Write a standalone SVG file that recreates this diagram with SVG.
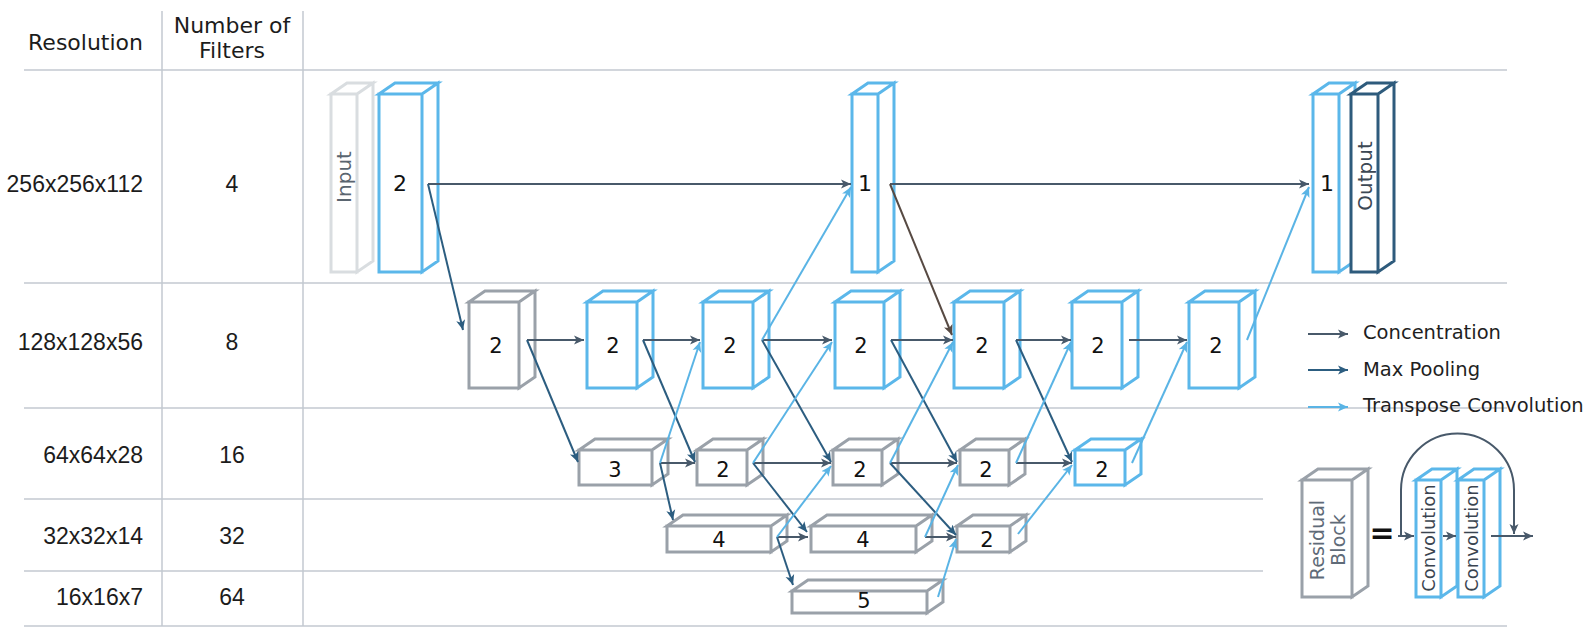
<svg xmlns="http://www.w3.org/2000/svg" width="1590" height="642" viewBox="0 0 1590 642">
<style>
.grid{stroke:#c3c9d1;stroke-width:1.5;fill:none}
.bx{fill:#fff;stroke-width:3;stroke-linejoin:miter}
.blue{stroke:#5bb7ea}
.gray{stroke:#9aa1a9}
.light{stroke:#d9dde0}
.dark{stroke:#2e5b7c}
.lbl{font-family:"DejaVu Sans",sans-serif;font-size:21px;fill:#111;text-anchor:middle}
.big{font-size:22px}
.hdr{font-family:"DejaVu Sans",sans-serif;font-size:22px;fill:#1c1c1c}
.num{font-family:"Liberation Sans",Arial,sans-serif;font-size:23px;fill:#1c1c1c}
.rot{font-family:"DejaVu Sans",sans-serif;text-anchor:middle}
.leg{font-family:"DejaVu Sans",sans-serif;font-size:19.5px;fill:#1f1f1f}
.c{stroke:#48596a;stroke-width:2;fill:none;marker-end:url(#mc)}
.p{stroke:#2c5d80;stroke-width:2;fill:none;marker-end:url(#mp)}
.t{stroke:#5ab4e5;stroke-width:2;fill:none;marker-end:url(#mt)}
.b{stroke:#574a43;stroke-width:2;fill:none;marker-end:url(#mb)}
</style>
<defs>
<marker id="mc" viewBox="0 0 10 10" refX="10" refY="5" markerWidth="10" markerHeight="10" markerUnits="userSpaceOnUse" orient="auto"><path d="M0,0.5 L10,5 L0,9.5 L2.5,5 z" fill="#48596a"/></marker>
<marker id="mp" viewBox="0 0 10 10" refX="10" refY="5" markerWidth="10" markerHeight="10" markerUnits="userSpaceOnUse" orient="auto"><path d="M0,0.5 L10,5 L0,9.5 L2.5,5 z" fill="#2c5d80"/></marker>
<marker id="mt" viewBox="0 0 10 10" refX="10" refY="5" markerWidth="10" markerHeight="10" markerUnits="userSpaceOnUse" orient="auto"><path d="M0,0.5 L10,5 L0,9.5 L2.5,5 z" fill="#5ab4e5"/></marker>
<marker id="mb" viewBox="0 0 10 10" refX="10" refY="5" markerWidth="10" markerHeight="10" markerUnits="userSpaceOnUse" orient="auto"><path d="M0,0.5 L10,5 L0,9.5 L2.5,5 z" fill="#574a43"/></marker>
</defs>

<g id="table">
<path class="grid" d="M24,70 H1507 M24,283 H1507 M24,408 H1507 M24,499 H1263 M24,571 H1263 M24,626 H1507 M162,11 V626 M303,11 V626"/>
<text class="hdr" x="143" y="50" text-anchor="end">Resolution</text>
<text class="hdr" x="232" y="33" text-anchor="middle">Number of</text>
<text class="hdr" x="232" y="58" text-anchor="middle">Filters</text>
<text class="num" x="143" y="192" text-anchor="end">256x256x112</text>
<text class="num" x="143" y="350" text-anchor="end">128x128x56</text>
<text class="num" x="143" y="463" text-anchor="end">64x64x28</text>
<text class="num" x="143" y="544" text-anchor="end">32x32x14</text>
<text class="num" x="143" y="605" text-anchor="end">16x16x7</text>
<text class="num" x="232" y="192" text-anchor="middle">4</text>
<text class="num" x="232" y="350" text-anchor="middle">8</text>
<text class="num" x="232" y="463" text-anchor="middle">16</text>
<text class="num" x="232" y="544" text-anchor="middle">32</text>
<text class="num" x="232" y="605" text-anchor="middle">64</text>
</g>

<g id="node-input"><path class="bx light" d="M331,94 h26 v178 h-26 z M331,94 l16,-11 h26 l-16,11 z M357,94 l16,-11 v178 l-16,11 z"/><text class="rot" font-size="20" fill="#5a6570" transform="translate(344,177) rotate(-90)" dy="7">Input</text></g>
<g id="node-a"><path class="bx blue" d="M379,94 h43 v178 h-43 z M379,94 l16,-11 h43 l-16,11 z M422,94 l16,-11 v178 l-16,11 z"/><text class="lbl big" x="400" y="191">2</text></g>
<g id="node-t1"><path class="bx blue" d="M852,94 h26 v178 h-26 z M852,94 l16,-11 h26 l-16,11 z M878,94 l16,-11 v178 l-16,11 z"/><text class="lbl big" x="865" y="191">1</text></g>
<g id="node-r1"><path class="bx blue" d="M1313,94 h26 v178 h-26 z M1313,94 l16,-11 h26 l-16,11 z M1339,94 l16,-11 v178 l-16,11 z"/><text class="lbl big" x="1327" y="191">1</text></g>
<g id="node-output"><path class="bx dark" d="M1351,94 h27 v178 h-27 z M1351,94 l16,-11 h27 l-16,11 z M1378,94 l16,-11 v178 l-16,11 z"/><text class="rot" font-size="20" fill="#3c4854" transform="translate(1365,176) rotate(-90)" dy="7">Output</text></g>

<g id="node-b"><path class="bx gray" d="M469,302 h50 v86 h-50 z M469,302 l16,-11 h50 l-16,11 z M519,302 l16,-11 v86 l-16,11 z"/><text class="lbl" x="496" y="353">2</text></g>
<g id="node-c"><path class="bx blue" d="M587,302 h50 v86 h-50 z M587,302 l16,-11 h50 l-16,11 z M637,302 l16,-11 v86 l-16,11 z"/><text class="lbl" x="613" y="353">2</text></g>
<g id="node-d"><path class="bx blue" d="M703,302 h50 v86 h-50 z M703,302 l16,-11 h50 l-16,11 z M753,302 l16,-11 v86 l-16,11 z"/><text class="lbl" x="730" y="353">2</text></g>
<g id="node-e"><path class="bx blue" d="M835,302 h49 v86 h-49 z M835,302 l16,-11 h49 l-16,11 z M884,302 l16,-11 v86 l-16,11 z"/><text class="lbl" x="861" y="353">2</text></g>
<g id="node-f"><path class="bx blue" d="M954,302 h50 v86 h-50 z M954,302 l16,-11 h50 l-16,11 z M1004,302 l16,-11 v86 l-16,11 z"/><text class="lbl" x="982" y="353">2</text></g>
<g id="node-g"><path class="bx blue" d="M1072,302 h50 v86 h-50 z M1072,302 l16,-11 h50 l-16,11 z M1122,302 l16,-11 v86 l-16,11 z"/><text class="lbl" x="1098" y="353">2</text></g>
<g id="node-h"><path class="bx blue" d="M1189,302 h50 v86 h-50 z M1189,302 l16,-11 h50 l-16,11 z M1239,302 l16,-11 v86 l-16,11 z"/><text class="lbl" x="1216" y="353">2</text></g>

<g id="node-3"><path class="bx gray" d="M579,450 h73 v35 h-73 z M579,450 l16,-11 h73 l-16,11 z M652,450 l16,-11 v35 l-16,11 z"/><text class="lbl" x="615" y="477">3</text></g>
<g id="node-i"><path class="bx gray" d="M697,450 h50 v35 h-50 z M697,450 l16,-11 h50 l-16,11 z M747,450 l16,-11 v35 l-16,11 z"/><text class="lbl" x="723" y="477">2</text></g>
<g id="node-j"><path class="bx gray" d="M833,450 h49 v35 h-49 z M833,450 l16,-11 h49 l-16,11 z M882,450 l16,-11 v35 l-16,11 z"/><text class="lbl" x="860" y="477">2</text></g>
<g id="node-k"><path class="bx gray" d="M960,450 h49 v35 h-49 z M960,450 l16,-11 h49 l-16,11 z M1009,450 l16,-11 v35 l-16,11 z"/><text class="lbl" x="986" y="477">2</text></g>
<g id="node-l"><path class="bx blue" d="M1075,450 h50 v35 h-50 z M1075,450 l16,-11 h50 l-16,11 z M1125,450 l16,-11 v35 l-16,11 z"/><text class="lbl" x="1102" y="477">2</text></g>

<g id="node-m"><path class="bx gray" d="M667,526 h104 v26 h-104 z M667,526 l16,-11 h104 l-16,11 z M771,526 l16,-11 v26 l-16,11 z"/><text class="lbl" x="719" y="547">4</text></g>
<g id="node-n"><path class="bx gray" d="M811,526 h105 v26 h-105 z M811,526 l16,-11 h105 l-16,11 z M916,526 l16,-11 v26 l-16,11 z"/><text class="lbl" x="863" y="547">4</text></g>
<g id="node-o"><path class="bx gray" d="M957,526 h53 v26 h-53 z M957,526 l16,-11 h53 l-16,11 z M1010,526 l16,-11 v26 l-16,11 z"/><text class="lbl" x="987" y="547">2</text></g>

<g id="node-p"><path class="bx gray" d="M792,591 h135 v22 h-135 z M792,591 l16,-11 h135 l-16,11 z M927,591 l16,-11 v22 l-16,11 z"/><text class="lbl" x="864" y="608">5</text></g>

<g id="connectors">
<path class="c" d="M428,184 H851"/>
<path class="c" d="M890,184 H1309"/>
<path class="c" d="M527,340 H584"/>
<path class="c" d="M643,340 H700"/>
<path class="c" d="M762,340 H832"/>
<path class="c" d="M891,340 H953"/>
<path class="c" d="M1016,340 H1071"/>
<path class="c" d="M1129,340 H1187"/>
<path class="c" d="M660,463 H695"/>
<path class="c" d="M753,463 H831"/>
<path class="c" d="M890,463 H957"/>
<path class="c" d="M1016,463 H1072"/>
<path class="c" d="M777,537 H808"/>
<path class="c" d="M925,537 H956"/>
<path class="p" d="M428,184 L463,330"/>
<path class="p" d="M527,340 L578,462"/>
<path class="p" d="M643,340 L695,462"/>
<path class="p" d="M762,340 L831,462"/>
<path class="p" d="M891,340 L957,462"/>
<path class="p" d="M1016,340 L1072,462"/>
<path class="p" d="M660,463 L673,520"/>
<path class="p" d="M753,463 L807,532"/>
<path class="p" d="M890,463 L956,535"/>
<path class="p" d="M777,537 L793,585"/>
<path class="b" d="M890,184 L952,335"/>
<path class="t" d="M660,463 L700,342"/>
<path class="t" d="M762,340 L851,187"/>
<path class="t" d="M753,463 L832,342"/>
<path class="t" d="M777,537 L831,466"/>
<path class="t" d="M890,463 L953,342"/>
<path class="t" d="M925,537 L958,465"/>
<path class="t" d="M938,597 L956,539"/>
<path class="t" d="M1016,463 L1071,342"/>
<path class="t" d="M1018,534 L1072,465"/>
<path class="t" d="M1132,463 L1187,342"/>
<path class="t" d="M1247,340 L1309,187"/>
</g>

<g id="legend">
<path class="c" d="M1308,334 H1348"/>
<path class="p" d="M1308,370 H1348"/>
<path class="t" d="M1308,407 H1348"/>
<text class="leg" x="1363" y="339">Concentration</text>
<text class="leg" x="1363" y="376">Max Pooling</text>
<text class="leg" x="1363" y="412">Transpose Convolution</text>
</g>

<g id="residual-legend">
<g id="node-residual"><path class="bx gray" d="M1302,480 h50 v117 h-50 z M1302,480 l16,-11 h50 l-16,11 z M1352,480 l16,-11 v117 l-16,11 z"/>
<text class="rot" font-size="19" fill="#5f6b78" transform="translate(1317,540) rotate(-90)" dy="7">Residual</text>
<text class="rot" font-size="19" fill="#5f6b78" transform="translate(1338,540) rotate(-90)" dy="7">Block</text></g>
<text x="1382" y="543" font-family="DejaVu Sans,sans-serif" font-size="30" font-weight="bold" fill="#111" text-anchor="middle">=</text>
<g id="node-conv1"><path class="bx blue" d="M1416,480 h25 v117 h-25 z M1416,480 l16,-11 h25 l-16,11 z M1441,480 l16,-11 v117 l-16,11 z"/>
<text class="rot" font-size="18" fill="#3a4450" transform="translate(1428,538) rotate(-90)" dy="6.5">Convolution</text></g>
<g id="node-conv2"><path class="bx blue" d="M1458,480 h26 v117 h-26 z M1458,480 l16,-11 h26 l-16,11 z M1484,480 l16,-11 v117 l-16,11 z"/>
<text class="rot" font-size="18" fill="#3a4450" transform="translate(1471,538) rotate(-90)" dy="6.5">Convolution</text></g>
<g id="residual-connectors">
<path class="c" d="M1401,536 V490 A56.5,56.5 0 0 1 1514,490 V534"/>
<path class="c" d="M1398,536 H1414"/>
<path class="c" d="M1443,536 H1456"/>
<path class="c" d="M1491,536 H1533"/>
</g>
</g>
</svg>
